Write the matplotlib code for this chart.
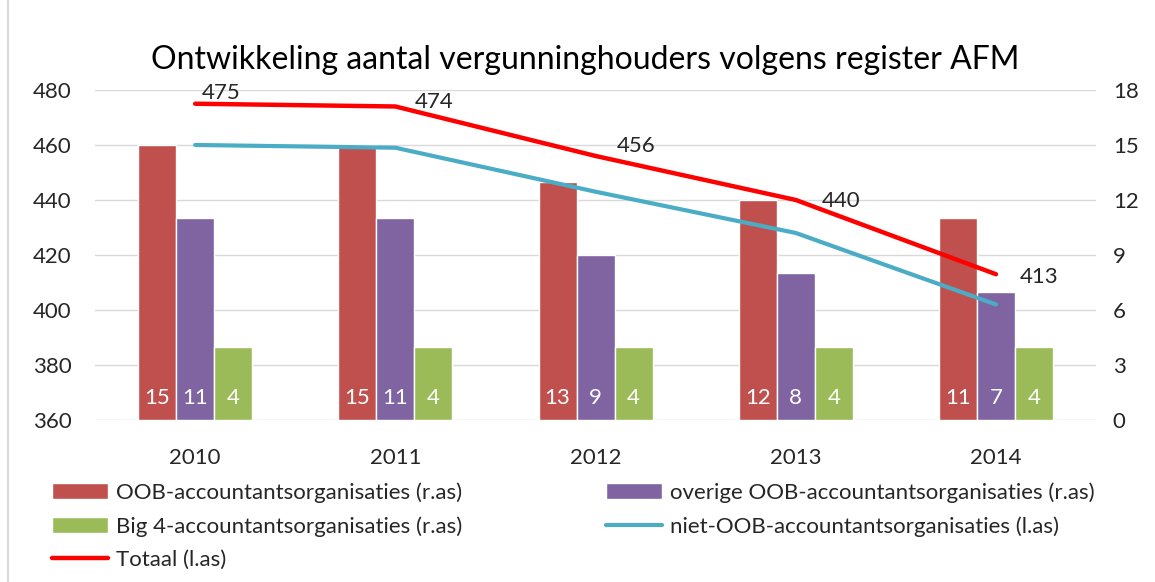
import numpy as np
import matplotlib
matplotlib.use('Agg')
import matplotlib.pyplot as plt
from matplotlib.patches import Rectangle

plt.rcParams['font.family'] = ['Lato', 'DejaVu Sans']

years = ['2010', '2011', '2012', '2013', '2014']
oob = [15, 15, 13, 12, 11]
overige_oob = [11, 11, 9, 8, 7]
big4 = [4, 4, 4, 4, 4]
niet_oob = [460, 459, 443, 428, 402]
totaal = [475, 474, 456, 440, 413]

c_oob = '#C0504D'
c_overige = '#8064A2'
c_big4 = '#9BBB59'
c_niet = '#4BACC6'
c_totaal = '#FF0000'
txt = '#262626'
fs = 16

fig = plt.figure(figsize=(11.55, 5.82), dpi=100)
ax = fig.add_axes([0.0823, 0.2784, 0.8667, 0.567])
ax2 = ax.twinx()

x = np.arange(len(years))
w = 0.19

# staven op de rechteras
b1 = ax2.bar(x - w, oob, w, color=c_oob, edgecolor='white', linewidth=1)
b2 = ax2.bar(x, overige_oob, w, color=c_overige, edgecolor='white', linewidth=1)
b3 = ax2.bar(x + w, big4, w, color=c_big4, edgecolor='white', linewidth=1)
for bars, vals in [(b1, oob), (b2, overige_oob), (b3, big4)]:
    for bar, v in zip(bars, vals):
        ax2.annotate(str(v), (bar.get_x() + bar.get_width() / 2, 0),
                     xytext=(0, 16), textcoords='offset points',
                     ha='center', va='center', color='white', fontsize=fs)

# lijnen op de linkeras (boven de staven tekenen)
ax.set_zorder(ax2.get_zorder() + 1)
ax.patch.set_visible(False)
l1, = ax.plot(x, niet_oob, color=c_niet, linewidth=3, solid_capstyle='round')
l2, = ax.plot(x, totaal, color=c_totaal, linewidth=3.2, solid_capstyle='round')
offsets = [(5, 8), (14, 3), (15, 7), (19, -1), (17, -2)]
for xi, v, off in zip(x, totaal, offsets):
    ax.annotate(str(v), (xi, v), xytext=off, textcoords='offset points',
                ha='left', va='center', fontsize=fs, color=txt)

ax.set_xlim(-0.5, 4.5)
ax.set_ylim(360, 480)
ax.set_yticks(range(360, 481, 20))
ax2.set_ylim(0, 18)
ax2.set_yticks(range(0, 19, 3))
ax.set_xticks(x)
ax.set_xticklabels(years)

ax2.yaxis.grid(True, color='#D9D9D9', linewidth=1)
ax2.set_axisbelow(True)
for a in (ax, ax2):
    for s in a.spines.values():
        s.set_visible(False)
ax.tick_params(axis='y', length=0, pad=17, labelsize=fs, labelcolor=txt)
ax.tick_params(axis='x', length=0, pad=20, labelsize=fs, labelcolor=txt)
ax2.tick_params(axis='y', length=0, pad=12, labelsize=fs, labelcolor=txt)

fig.text(0.507, 0.897, 'Ontwikkeling aantal vergunninghouders volgens register AFM',
         ha='center', va='center', fontsize=23, color='black')

handles = [b1, b3, l2, b2, l1]
labels = ['OOB-accountantsorganisaties (r.as)',
          'Big 4-accountantsorganisaties (r.as)',
          'Totaal (l.as)',
          'overige OOB-accountantsorganisaties (r.as)',
          'niet-OOB-accountantsorganisaties (l.as)']
fig.legend(handles, labels, ncol=2, loc='upper left', bbox_to_anchor=(0.028, 0.206),
           frameon=False, fontsize=fs, handlelength=2.5, handletextpad=0.35,
           columnspacing=6.5, labelspacing=0.6, labelcolor=txt)

fig.add_artist(Rectangle((0.007, -0.01), 1.2, 1.1, transform=fig.transFigure,
                         fill=False, edgecolor='#D9D9D9', linewidth=1.5))

fig.savefig('out.png', dpi=100)
